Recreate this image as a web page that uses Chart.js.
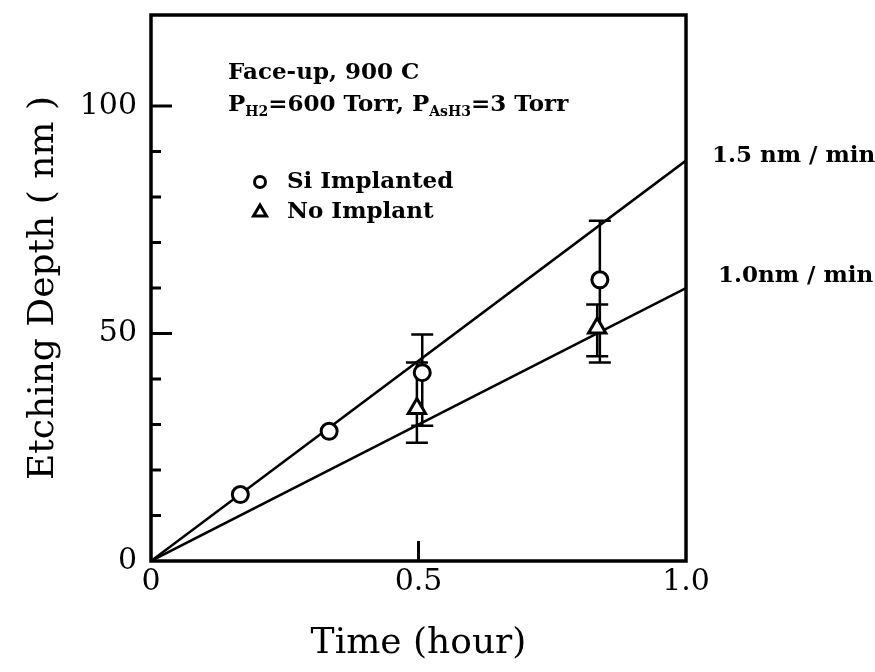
<!DOCTYPE html>
<html><head><meta charset="utf-8">
<script src="https://cdn.jsdelivr.net/npm/chart.js@4"></script>
<style>html,body{margin:0;padding:0;background:#fff}</style>
</head><body>
<canvas id="c" width="875" height="672" style="display:block;width:875px;height:672px"></canvas>
<script>
// ---- data ----
const xTickValues = [0, 0.5, 1];
const xTickLabels = ['0', '0.5', '1.0'];
const xMajorMarks = [0.5];
const yTickValues = [0, 50, 100];
const yTickLabels = ['0', '50', '100'];
const yMinorMarks = [10, 20, 30, 40, 60, 70, 80, 90];
const yMajorMarks = [50, 100];

const siTime  = [0.167, 0.333, 0.507, 0.839];
const siDepth = [14.6, 28.5, 41.4, 61.8];
const siLow   = [null, null, 29.7, 43.6];
const siHigh  = [null, null, 49.8, 74.8];

const noTime  = [0.497, 0.834];
const noDepth = [33.5, 51.2];
const noLow   = [26.0, 45.0];
const noHigh  = [43.6, 56.4];

const fitTime = [0, 1];
const fitFast = [0, 88];
const fitSlow = [0, 60];

const seriesNames = ['Si Implanted', 'No Implant'];
const rateLabels = ['1.5 nm / min', '1.0nm / min'];
const noteLine1 = 'Face-up, 900 C';

const SERIF = '"DejaVu Serif", "Liberation Serif", serif';

function pts(xs, ys) { return xs.map((x, i) => ({x: x, y: ys[i]})); }

function drawErrBars(ctx, xs, lo, hi, xs_, ys_) {
  ctx.save();
  ctx.strokeStyle = '#000';
  ctx.lineWidth = 2.5;
  for (let i = 0; i < xs.length; i++) {
    if (lo[i] == null) continue;
    const px = xs_.getPixelForValue(xs[i]);
    const y1 = ys_.getPixelForValue(lo[i]);
    const y2 = ys_.getPixelForValue(hi[i]);
    ctx.beginPath();
    ctx.moveTo(px, y1); ctx.lineTo(px, y2);
    ctx.moveTo(px - 11, y1); ctx.lineTo(px + 11, y1);
    ctx.moveTo(px - 11, y2); ctx.lineTo(px + 11, y2);
    ctx.stroke();
  }
  ctx.restore();
}

const errPlugin = {
  id: 'errbars',
  beforeDatasetsDraw(chart) {
    const ctx = chart.ctx, xs = chart.scales.x, ys = chart.scales.y;
    drawErrBars(ctx, siTime, siLow, siHigh, xs, ys);
    drawErrBars(ctx, noTime, noLow, noHigh, xs, ys);
  }
};

const framePlugin = {
  id: 'frame',
  afterDraw(chart) {
    const ctx = chart.ctx, a = chart.chartArea, xs = chart.scales.x, ys = chart.scales.y;
    ctx.save();
    ctx.strokeStyle = '#000';
    ctx.lineWidth = 3.5;
    ctx.strokeRect(a.left, a.top, a.right - a.left, a.bottom - a.top);
    ctx.lineWidth = 3;
    ctx.beginPath();
    yMinorMarks.forEach(v => { const y = ys.getPixelForValue(v); ctx.moveTo(a.left, y); ctx.lineTo(a.left + 10, y); });
    yMajorMarks.forEach(v => { const y = ys.getPixelForValue(v); ctx.moveTo(a.left, y); ctx.lineTo(a.left + 21, y); });
    xMajorMarks.forEach(v => { const x = xs.getPixelForValue(v); ctx.moveTo(x, a.bottom); ctx.lineTo(x, a.bottom - 20); });
    ctx.stroke();

    // annotation text
    ctx.fillStyle = '#000';
    ctx.textBaseline = 'alphabetic';
    ctx.textAlign = 'left';
    const big = 'bold 23px ' + SERIF, sub = 'bold 14px ' + SERIF;
    let x = a.left + 77;
    ctx.font = big; ctx.fillText(noteLine1, x, 79);
    const parts = [['P', big, 0], ['H2', sub, 5], ['=600 Torr, P', big, 0], ['AsH3', sub, 5], ['=3 Torr', big, 0]];
    parts.forEach(p => { ctx.font = p[1]; ctx.fillText(p[0], x, 111 + p[2]); x += ctx.measureText(p[0]).width; });

    // legend
    ctx.lineWidth = 3;
    ctx.beginPath(); ctx.arc(a.left + 109, 182, 5.5, 0, Math.PI * 2); ctx.stroke();
    const tx = a.left + 109, ty = 211;
    ctx.beginPath(); ctx.moveTo(tx, ty - 6); ctx.lineTo(tx + 6.5, ty + 5); ctx.lineTo(tx - 6.5, ty + 5); ctx.closePath(); ctx.stroke();
    ctx.font = big; ctx.textBaseline = 'middle';
    ctx.fillText(seriesNames[0], a.left + 136, 182);
    ctx.fillText(seriesNames[1], a.left + 136, 212);

    // rate labels
    ctx.fillText(rateLabels[0], a.right + 26, ys.getPixelForValue(fitFast[1]) - 5);
    ctx.fillText(rateLabels[1], a.right + 32, ys.getPixelForValue(fitSlow[1]) - 12);
    ctx.restore();
  }
};

new Chart(document.getElementById('c'), {
  type: 'scatter',
  data: {
    datasets: [
      { label: seriesNames[0], data: pts(siTime, siDepth), order: 0,
        pointStyle: 'circle', pointRadius: 8, pointHoverRadius: 8, borderWidth: 3,
        borderColor: '#000', backgroundColor: '#fff' },
      { label: seriesNames[1], data: pts(noTime, noDepth), order: 0,
        pointStyle: 'triangle', pointRadius: 10, pointHoverRadius: 10, borderWidth: 3,
        borderColor: '#000', backgroundColor: '#fff' },
      { label: rateLabels[0], data: pts(fitTime, fitFast), order: 1, showLine: true,
        pointRadius: 0, borderColor: '#000', borderWidth: 2.5, fill: false },
      { label: rateLabels[1], data: pts(fitTime, fitSlow), order: 1, showLine: true,
        pointRadius: 0, borderColor: '#000', borderWidth: 2.5, fill: false }
    ]
  },
  options: {
    responsive: false,
    animation: false,
    devicePixelRatio: 1,
    layout: { padding: { left: 10, right: 189, top: 15, bottom: 6 } },
    plugins: { legend: { display: false }, tooltip: { enabled: false } },
    events: [],
    scales: {
      x: {
        type: 'linear', min: 0, max: 1,
        afterBuildTicks: s => { s.ticks = xTickValues.map(v => ({value: v})); },
        afterFit: s => { s.height = 105; s.paddingLeft = 0; s.paddingRight = 0; },
        grid: { display: false, drawTicks: false },
        border: { display: false },
        ticks: { callback: (v, i) => xTickLabels[i], color: '#000', padding: 3,
                 font: { family: SERIF, size: 30 }, maxRotation: 0, autoSkip: false },
        title: { display: true, text: 'Time (hour)', color: '#000',
                 font: { family: SERIF, size: 36 }, padding: { top: 0, bottom: 1 } }
      },
      y: {
        type: 'linear', min: 0, max: 120,
        afterBuildTicks: s => { s.ticks = yTickValues.map(v => ({value: v})); },
        afterFit: s => { s.width = 141; s.paddingTop = 0; s.paddingBottom = 0; },
        grid: { display: false, drawTicks: false },
        border: { display: false },
        ticks: { callback: (v, i) => yTickLabels[i], color: '#000', padding: 14,
                 font: { family: SERIF, size: 30 }, autoSkip: false },
        title: { display: true, text: 'Etching Depth ( nm )', color: '#000',
                 font: { family: SERIF, size: 36 }, padding: { top: 12, bottom: 0 } }
      }
    }
  },
  plugins: [errPlugin, framePlugin]
});
</script>
</body></html>
